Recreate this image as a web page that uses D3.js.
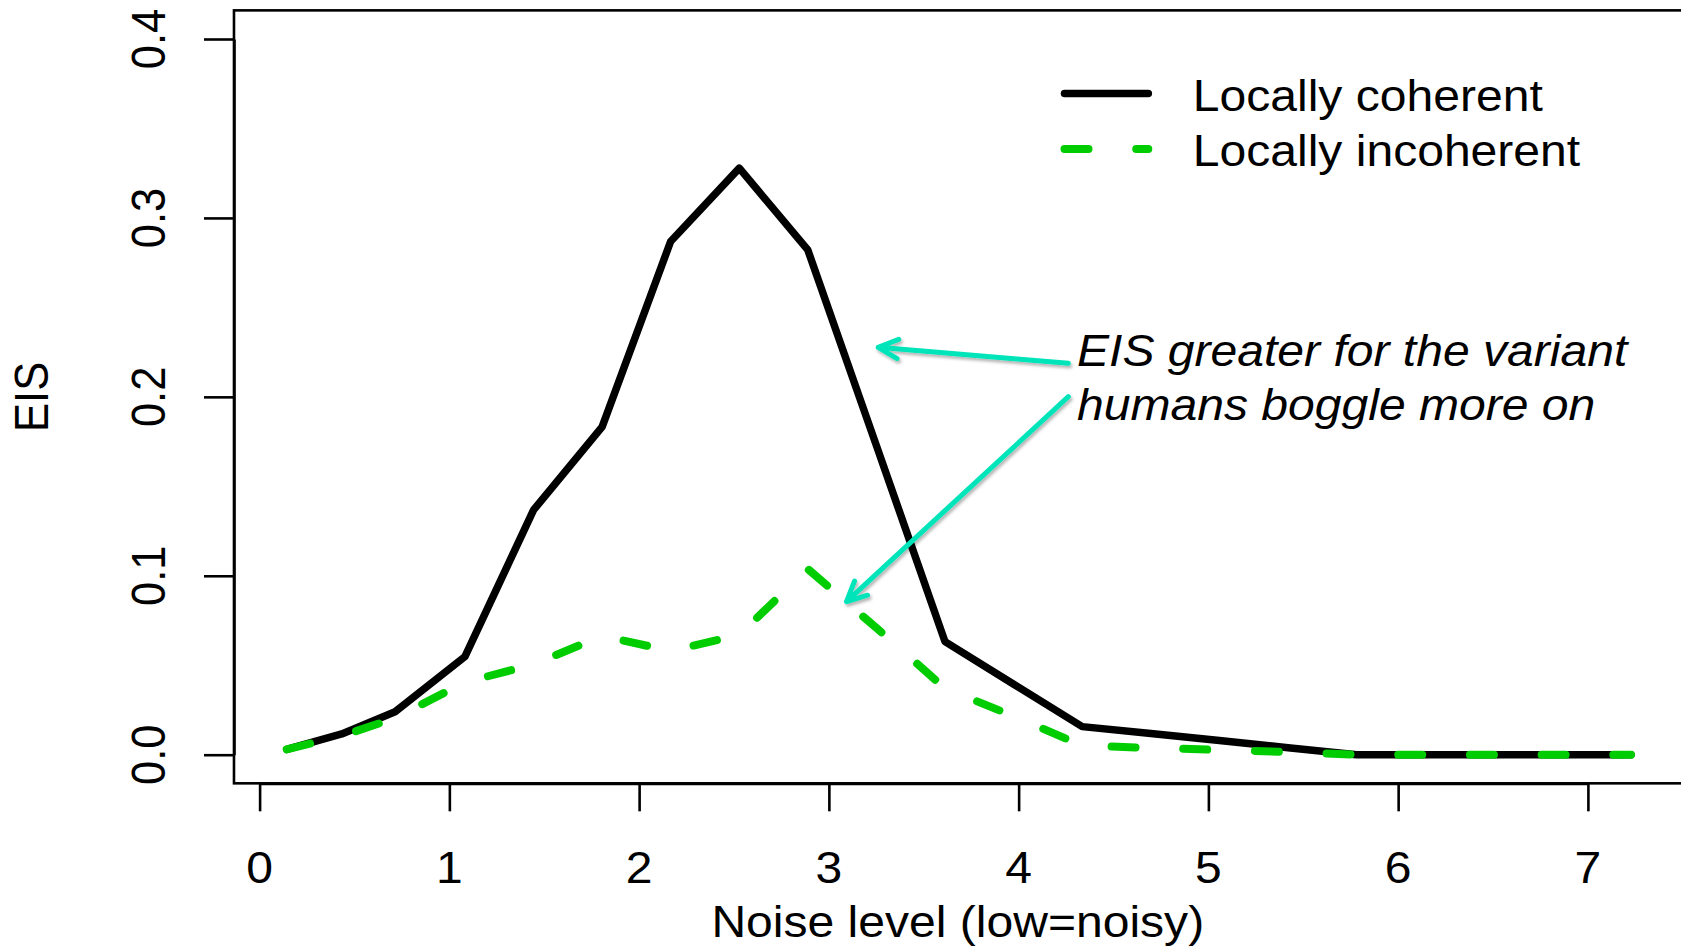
<!DOCTYPE html>
<html>
<head>
<meta charset="utf-8">
<script src="https://cdn.jsdelivr.net/npm/d3@7"></script>
<style>
  html, body { margin: 0; padding: 0; background: #fff; }
  svg { display: block; }
  text { font-family: "Liberation Sans", Arial, Helvetica, sans-serif; fill: #000; }
</style>
</head>
<body>
<svg id="chart" width="1681" height="946"></svg>
<script>
// ---- data ----
const noiseLevels = [0.143, 0.433, 0.714, 1.082, 1.444, 1.805, 2.166, 2.528, 2.889, 3.251,
                     3.612, 3.974, 4.335, 4.697, 5.058, 5.420, 5.781, 6.143, 6.504, 6.866, 7.227];
const coherent    = [0.003, 0.0116, 0.024, 0.0548, 0.1368, 0.1832, 0.2868, 0.3278, 0.2821, 0.1726,
                     0.0632, 0.0394, 0.0157, 0.0118, 0.0079, 0.0039, 0, 0, 0, 0, 0];
const incoherent  = [0.003, 0.0105, 0.0205, 0.0405, 0.0505, 0.0664, 0.058, 0.067, 0.1038, 0.0708,
                     0.0371, 0.0215, 0.0051, 0.0038, 0.0027, 0.0015, 0, 0, 0, 0, 0];
const seriesNames = ["Locally coherent", "Locally incoherent"];
const xTicks = [0, 1, 2, 3, 4, 5, 6, 7];
const yTicks = [0, 0.1, 0.2, 0.3, 0.4];
const yTickLabels = ["0.0", "0.1", "0.2", "0.3", "0.4"];
const xTitle = "Noise level (low=noisy)";
const yTitle = "EIS";
const noteLines = ["EIS greater for the variant", "humans boggle more on"];

// ---- layout ----
const SX = 1.105;      // horizontal stretch of the original picture
const FS = 43.5;
const GREEN = "#00cd00";
const TEAL = "#00e4ba";

const svg = d3.select("#chart");
svg.append("rect").attr("width", 1681).attr("height", 946).attr("fill", "#fff");

const defs = svg.append("defs");
const f = defs.append("filter").attr("id", "shadow")
  .attr("x", "-20%").attr("y", "-20%").attr("width", "140%").attr("height", "140%");
f.append("feDropShadow").attr("dx", 1.5).attr("dy", 2.5).attr("stdDeviation", 1.6)
  .attr("flood-color", "#000").attr("flood-opacity", 0.3);

const x = d3.scaleLinear().domain([0, 7]).range([259.6, 1587.9]);
const y = d3.scaleLinear().domain([0, 0.4]).range([754.7, 39]);

const xMin = -0.135, xMax = 7.504, yMin = -0.016, yMax = 0.416;

function stretchedText(g, tx, ty, str, opts = {}) {
  const t = g.append("text")
    .attr("transform", `translate(${tx},${ty}) scale(${SX},1)` + (opts.rotate ? ` rotate(${opts.rotate})` : ""))
    .attr("font-size", FS)
    .attr("text-anchor", opts.anchor || "start")
    .text(str);
  if (opts.italic) t.attr("font-style", "italic");
  return t;
}

// plot box
svg.append("rect")
  .attr("x", x(xMin)).attr("y", y(yMax))
  .attr("width", x(xMax) - x(xMin)).attr("height", y(yMin) - y(yMax))
  .attr("fill", "none").attr("stroke", "#000").attr("stroke-width", 2.6);

// x axis
const xAxisG = svg.append("g")
  .attr("transform", `translate(0,${y(yMin)})`)
  .call(d3.axisBottom(x).tickValues(xTicks).tickSize(28).tickSizeOuter(0).tickFormat(""));
xAxisG.selectAll("line").attr("stroke", "#000").attr("stroke-width", 2.6);
xAxisG.select(".domain").attr("stroke", "#000").attr("stroke-width", 2.6);
xTicks.forEach(v => stretchedText(svg, x(v), 882.5, String(v), { anchor: "middle" }));

// y axis
const yAxisG = svg.append("g")
  .attr("transform", `translate(${x(xMin)},0)`)
  .call(d3.axisLeft(y).tickValues(yTicks).tickSize(30).tickSizeOuter(0).tickFormat(""));
yAxisG.selectAll("line").attr("stroke", "#000").attr("stroke-width", 2.6);
yAxisG.select(".domain").attr("stroke", "#000").attr("stroke-width", 2.6);
yTicks.forEach((v, i) => stretchedText(svg, 165, y(v), yTickLabels[i], { anchor: "middle", rotate: -90 }));

// axis titles
stretchedText(svg, (x(xMin) + x(xMax)) / 2 - 1, 937, xTitle, { anchor: "middle" });
stretchedText(svg, 48, (y(yMin) + y(yMax)) / 2, yTitle, { anchor: "middle", rotate: -90 });

// lines
const line = d3.line().x(d => x(d[0])).y(d => y(d[1]));
const coherentPts = noiseLevels.map((v, i) => [v, coherent[i]]);
const incoherentPts = noiseLevels.map((v, i) => [v, incoherent[i]]);

svg.append("path").datum(coherentPts).attr("d", line)
  .attr("fill", "none").attr("stroke", "#000").attr("stroke-width", 7.5)
  .attr("stroke-linejoin", "round").attr("stroke-linecap", "round");
svg.append("path").datum(incoherentPts).attr("d", line)
  .attr("fill", "none").attr("stroke", GREEN).attr("stroke-width", 8)
  .attr("stroke-dasharray", "24,47.7")
  .attr("stroke-linejoin", "round").attr("stroke-linecap", "round");

// legend
const legG = svg.append("g");
const legX0 = 1064.5, legX1 = 1148.3, legTextX = 1192.8;
const legRows = [
  { name: seriesNames[0], ly: 93.5, ty: 110.7, color: "#000", dash: null, w: 7.5 },
  { name: seriesNames[1], ly: 149, ty: 166, color: GREEN, dash: "24,47.7", w: 8 }
];
legRows.forEach(r => {
  const l = legG.append("line").attr("x1", legX0).attr("x2", legX1).attr("y1", r.ly).attr("y2", r.ly)
    .attr("stroke", r.color).attr("stroke-width", r.w).attr("stroke-linecap", "round");
  if (r.dash) l.attr("stroke-dasharray", r.dash);
  stretchedText(legG, legTextX, r.ty, r.name);
});

// annotation text
stretchedText(svg, 1077, 366, noteLines[0], { italic: true });
stretchedText(svg, 1077, 420, noteLines[1], { italic: true });

// annotation arrows (data coordinates)
const arrows = [
  { from: [4.262, 0.2188], to: [3.260, 0.2277] },
  { from: [4.262, 0.2001], to: [3.093, 0.0856] }
];
const arrG = svg.append("g").attr("filter", "url(#shadow)");
arrows.forEach(a => {
  const x1 = x(a.from[0]), y1 = y(a.from[1]), x2 = x(a.to[0]), y2 = y(a.to[1]);
  const ang = Math.atan2(y1 - y2, x1 - x2);
  const L = 22, spread = 26 * Math.PI / 180;
  const b1 = [x2 + L * Math.cos(ang + spread), y2 + L * Math.sin(ang + spread)];
  const b2 = [x2 + L * Math.cos(ang - spread), y2 + L * Math.sin(ang - spread)];
  arrG.append("path")
    .attr("d", `M${x1},${y1}L${x2},${y2}M${b1[0]},${b1[1]}L${x2},${y2}L${b2[0]},${b2[1]}`)
    .attr("fill", "none").attr("stroke", TEAL).attr("stroke-width", 5)
    .attr("stroke-linecap", "round").attr("stroke-linejoin", "round");
});
</script>
</body>
</html>
